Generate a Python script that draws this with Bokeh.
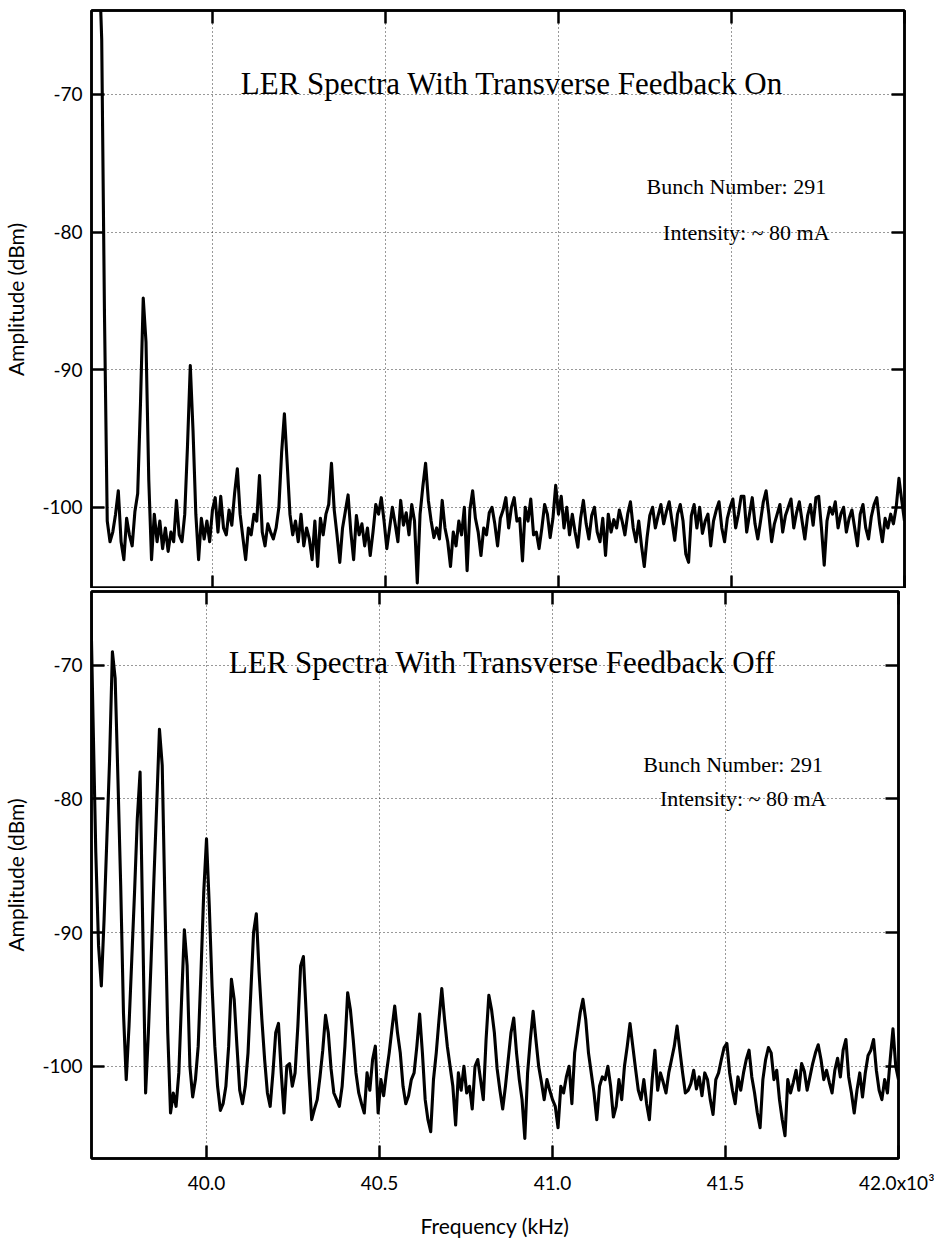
from bokeh.plotting import figure
from bokeh.models import Range1d, FixedTicker, LinearAxis, Label, ColumnDataSource
from bokeh.layouts import column
from bokeh.embed import file_html
from bokeh.resources import INLINE

# ---------------- data ----------------
# spectrum analyser sweep: first bin and bin spacing, in kHz x10^3
FREQ_START = 39.664
FREQ_STEP = 0.008
FREQ_MAX = 42.0

x_ticks = [40.0, 40.5, 41.0, 41.5, 42.0]
x_tick_labels = ["40.0", "40.5", "41.0", "41.5", "42.0x10\u00b3"]
y_ticks = [-100, -90, -80, -70]
y_tick_labels = ["-100", "-90", "-80", "-70"]

# amplitude (dBm), transverse feedback ON (upper panel)
amp_on = [
    -60.0, -60.0, -66.0, -86.0, -101.0, -102.5, -101.8, -100.5, -98.8, -102.5,
    -103.8, -100.8, -102.0, -102.8, -100.3, -99.0, -92.5, -84.8, -88.0, -98.0,
    -103.8, -100.5, -102.5, -101.0, -103.0, -101.5, -103.2, -101.8, -102.5, -99.5,
    -102.0, -102.5, -100.5, -95.5, -89.7, -94.5, -100.5, -103.8, -100.8, -102.3,
    -101.0, -102.5, -100.2, -99.3, -101.8, -99.2, -101.5, -102.0, -100.2, -101.3,
    -99.0, -97.2, -100.5, -102.2, -103.8, -101.5, -102.0, -100.5, -101.0, -97.7,
    -101.8, -102.8, -101.2, -101.8, -102.3, -101.5, -100.0, -96.0, -93.2, -96.8,
    -100.5, -102.0, -101.0, -102.5, -100.5, -102.8, -101.5, -102.3, -103.8, -101.0,
    -104.3, -100.8, -102.0, -100.5, -99.8, -96.8, -100.2, -102.0, -104.0, -101.5,
    -100.3, -99.1, -101.8, -103.8, -100.6, -102.0, -101.2, -102.8, -101.5, -103.5,
    -101.8, -99.8, -100.5, -99.3, -101.0, -103.0, -101.5, -100.0, -101.2, -102.5,
    -99.5, -101.3, -100.4, -102.0, -99.8, -101.0, -105.5, -100.5, -98.5, -96.8,
    -99.5, -101.0, -102.2, -101.5, -102.3, -99.5, -101.5, -102.5, -104.3, -101.8,
    -102.8, -101.0, -102.0, -100.0, -104.6, -100.2, -98.8, -100.8, -101.8, -103.5,
    -101.5, -102.0, -100.4, -100.0, -101.2, -102.8, -100.8, -100.2, -99.3, -101.5,
    -100.0, -99.3, -101.0, -100.8, -103.9, -100.0, -101.0, -99.4, -102.0, -101.8,
    -103.0, -101.5, -99.8, -100.5, -102.2, -100.8, -98.4, -100.5, -99.2, -101.5,
    -100.0, -102.0, -100.5, -101.8, -102.9, -100.8, -99.5, -101.2, -102.3, -100.6,
    -100.0, -101.8, -102.5, -100.8, -103.5, -100.5, -101.8, -100.9, -101.5, -100.2,
    -101.0, -102.0, -100.5, -99.6, -101.5, -102.5, -101.0, -102.8, -104.3, -102.2,
    -100.6, -100.0, -101.5, -100.6, -99.8, -101.2, -100.3, -99.6, -101.0, -102.4,
    -100.5, -99.8, -101.0, -103.4, -104.0, -100.6, -99.8, -101.5, -100.0, -101.9,
    -101.0, -100.5, -102.8, -101.0, -100.2, -99.6, -101.5, -102.5, -100.8, -100.0,
    -99.4, -101.5, -100.5, -99.2, -99.2, -101.8, -100.5, -99.3, -101.2, -102.3,
    -101.0, -99.6, -98.8, -100.5, -102.5, -101.2, -100.5, -99.8, -101.8, -100.6,
    -100.0, -99.4, -101.5, -100.4, -99.6, -101.0, -102.3, -100.6, -99.8, -101.3,
    -99.3, -99.2, -101.5, -104.2, -101.0, -100.0, -100.5, -99.6, -101.5, -100.5,
    -100.0, -101.8, -100.8, -100.2, -101.5, -102.8, -100.5, -99.8, -101.5, -102.3,
    -100.7, -99.8, -99.3, -101.2, -102.5, -100.8, -101.5, -100.5, -101.2, -100.0,
    -97.9, -99.5, -101.0,
]

# amplitude (dBm), transverse feedback OFF (lower panel)
amp_off = [
    -63.5, -74.0, -84.0, -91.0, -94.0, -89.0, -83.0, -77.0, -69.0, -71.0,
    -78.5, -86.5, -96.0, -101.0, -97.0, -92.0, -87.0, -81.5, -78.0, -90.0,
    -102.0, -97.5, -92.0, -86.0, -80.5, -74.8, -77.5, -88.0, -97.5, -103.5,
    -102.0, -103.0, -100.5, -95.0, -89.8, -92.5, -100.0, -102.3, -101.0, -98.5,
    -93.0, -87.0, -83.0, -88.0, -94.0, -98.5, -101.5, -103.3, -102.8, -101.5,
    -98.5, -93.5, -95.0, -98.5, -101.8, -102.8, -101.5, -99.0, -94.5, -90.0,
    -88.6, -93.0, -96.5, -99.5, -102.0, -103.0, -100.5, -97.5, -96.8, -100.5,
    -103.5, -100.0, -99.8, -101.5, -100.5, -97.0, -92.5, -91.8, -96.0, -100.5,
    -104.0, -103.2, -102.5, -100.8, -98.8, -96.2, -97.5, -100.2, -102.0, -102.5,
    -103.0, -101.5, -98.5, -94.5, -95.8, -98.0, -100.5, -102.0, -102.8, -103.5,
    -100.5, -101.8, -99.5, -98.5, -103.5, -101.0, -102.2, -100.5, -99.0, -97.2,
    -95.5, -97.5, -99.0, -101.5, -102.8, -102.2, -101.0, -100.5, -98.5, -96.1,
    -99.0, -102.5, -104.0, -104.9, -101.0, -99.0, -96.5, -94.2, -96.5, -98.5,
    -100.0, -101.5, -104.4, -100.5, -101.8, -100.0, -102.0, -101.5, -103.2, -100.0,
    -99.5, -101.0, -102.5, -98.0, -94.7, -95.8, -97.5, -100.2, -101.8, -103.2,
    -101.5, -99.5, -97.5, -96.4, -99.0, -101.0, -102.5, -105.4, -100.5, -98.0,
    -95.9, -98.0, -100.0, -101.2, -102.5, -101.0, -101.8, -102.5, -103.0, -104.6,
    -101.5, -102.0, -100.8, -100.0, -102.8, -99.0, -97.5, -96.0, -95.0, -96.5,
    -99.0, -100.5, -102.0, -104.0, -101.5, -100.8, -101.0, -100.0, -101.5, -103.8,
    -103.0, -101.0, -102.5, -100.0, -98.5, -96.8, -98.5, -100.2, -101.8, -102.5,
    -101.0, -102.8, -104.0, -101.0, -98.8, -101.8, -100.5, -101.2, -102.0, -100.5,
    -99.5, -98.5, -97.0, -98.8, -100.5, -102.0, -101.8, -101.3, -100.3, -101.7,
    -100.8, -102.2, -100.5, -101.0, -102.5, -103.6, -101.0, -100.5, -99.5, -98.6,
    -98.3, -100.5, -101.8, -102.8, -100.8, -101.8, -100.5, -99.5, -98.8, -100.8,
    -102.0, -103.5, -104.6, -101.0, -99.5, -98.6, -99.0, -101.0, -100.3, -102.5,
    -104.0, -105.2, -101.0, -102.0, -101.2, -100.3, -101.8, -99.8, -100.4, -101.8,
    -100.8, -99.8, -99.0, -98.4, -99.5, -101.0, -100.3, -101.2, -102.0, -100.3,
    -99.4, -100.8, -98.8, -98.0, -100.8, -102.0, -103.5, -101.8, -100.5, -102.3,
    -100.5, -99.2, -98.8, -98.0, -100.3, -101.8, -102.5, -101.0, -102.0, -99.5,
    -97.2, -100.0, -101.0,
]

freq = [round(FREQ_START + FREQ_STEP * i, 4) for i in range(len(amp_on))]

TITLE_ON = "LER Spectra With Transverse Feedback On"
TITLE_OFF = "LER Spectra With Transverse Feedback Off"
BUNCH_TEXT = "Bunch Number: 291"
INTENSITY_TEXT = "Intensity: ~ 80 mA"
Y_LABEL = "Amplitude (dBm)"
X_LABEL = "Frequency (kHz)"

SERIF = "Liberation Serif"
SANS = "Lato"
LEFT_BORDER = 91


def style_axis(ax, ticks, labels=None, standoff=10, show=True):
    ax.ticker = FixedTicker(ticks=ticks)
    ax.axis_line_color = "black"
    ax.axis_line_width = 2.5
    ax.major_tick_in = 13
    ax.major_tick_out = 0
    ax.major_tick_line_color = "black"
    ax.major_tick_line_width = 2.5
    ax.minor_tick_line_color = None
    if show:
        ax.major_label_text_font = SANS
        ax.major_label_text_font_size = "19px"
        ax.major_label_text_color = "black"
        ax.major_label_standoff = standoff
        if labels is not None:
            ax.major_label_overrides = {t: l for t, l in zip(ticks, labels)}
    else:
        ax.major_label_text_color = None
        ax.major_label_standoff = 0


def make_panel(amps, x_lo, y_lo, y_hi, frame_w, frame_h, bt, bb, br, bottom_labels):
    p = figure(x_range=Range1d(x_lo, FREQ_MAX), y_range=Range1d(y_lo, y_hi),
               frame_width=frame_w, frame_height=frame_h,
               min_border_left=LEFT_BORDER, min_border_top=bt, min_border_bottom=bb,
               min_border_right=br, output_backend="svg", toolbar_location=None,
               background_fill_color="white", border_fill_color="white",
               outline_line_color="black", outline_line_width=2.5)
    p.add_layout(LinearAxis(), "right")
    p.add_layout(LinearAxis(), "above")

    left = p.left[0]
    style_axis(left, y_ticks, y_tick_labels, standoff=9)
    left.axis_label = Y_LABEL
    left.axis_label_text_font = SANS
    left.axis_label_text_font_size = "21px"
    left.axis_label_text_font_style = "normal"
    left.axis_label_text_color = "black"
    left.axis_label_standoff = 11
    style_axis(p.right[0], y_ticks, show=False)
    style_axis(p.above[0], x_ticks, show=False)

    below = p.below[0]
    if bottom_labels:
        style_axis(below, x_ticks, x_tick_labels, standoff=12)
        below.axis_label = X_LABEL
        below.axis_label_text_font = SANS
        below.axis_label_text_font_size = "21px"
        below.axis_label_text_font_style = "normal"
        below.axis_label_text_color = "black"
        below.axis_label_standoff = 16
    else:
        style_axis(below, x_ticks, show=False)

    p.xgrid.ticker = FixedTicker(ticks=x_ticks)
    p.ygrid.ticker = FixedTicker(ticks=y_ticks)
    p.grid.grid_line_color = "black"
    p.grid.grid_line_width = 1
    p.grid.grid_line_alpha = 0.8
    p.grid.grid_line_dash = "1 3"

    src = ColumnDataSource(dict(f=freq, a=amps))
    p.line("f", "a", source=src, line_color="black", line_width=3.1,
           line_join="round")
    return p


def add_text(p, x, y, text, size):
    p.add_layout(Label(x=x, y=y, text=text, text_align="center",
                       text_baseline="alphabetic", text_font=SERIF,
                       text_font_size=size, text_color="black"))


# ---------------- upper panel: feedback ON ----------------
p_on = make_panel(amp_on, 39.6505, -105.9, -63.9, 813, 578, 10, 0, 12, False)
add_text(p_on, 40.866, -69.2, TITLE_ON, "31px")
add_text(p_on, 41.514, -76.7, BUNCH_TEXT, "22px")
add_text(p_on, 41.543, -80.0, INTENSITY_TEXT, "22px")

# ---------------- lower panel: feedback OFF ----------------
p_off = make_panel(amp_off, 39.6676, -106.9, -64.5, 807, 567, 3, 78, 36, True)
add_text(p_off, 40.855, -69.8, TITLE_OFF, "31px")
add_text(p_off, 41.522, -77.4, BUNCH_TEXT, "22px")
add_text(p_off, 41.551, -80.0, INTENSITY_TEXT, "22px")

layout = column(p_on, p_off)
open("out.html", "w").write(file_html(layout, INLINE, title="LER Spectra"))
